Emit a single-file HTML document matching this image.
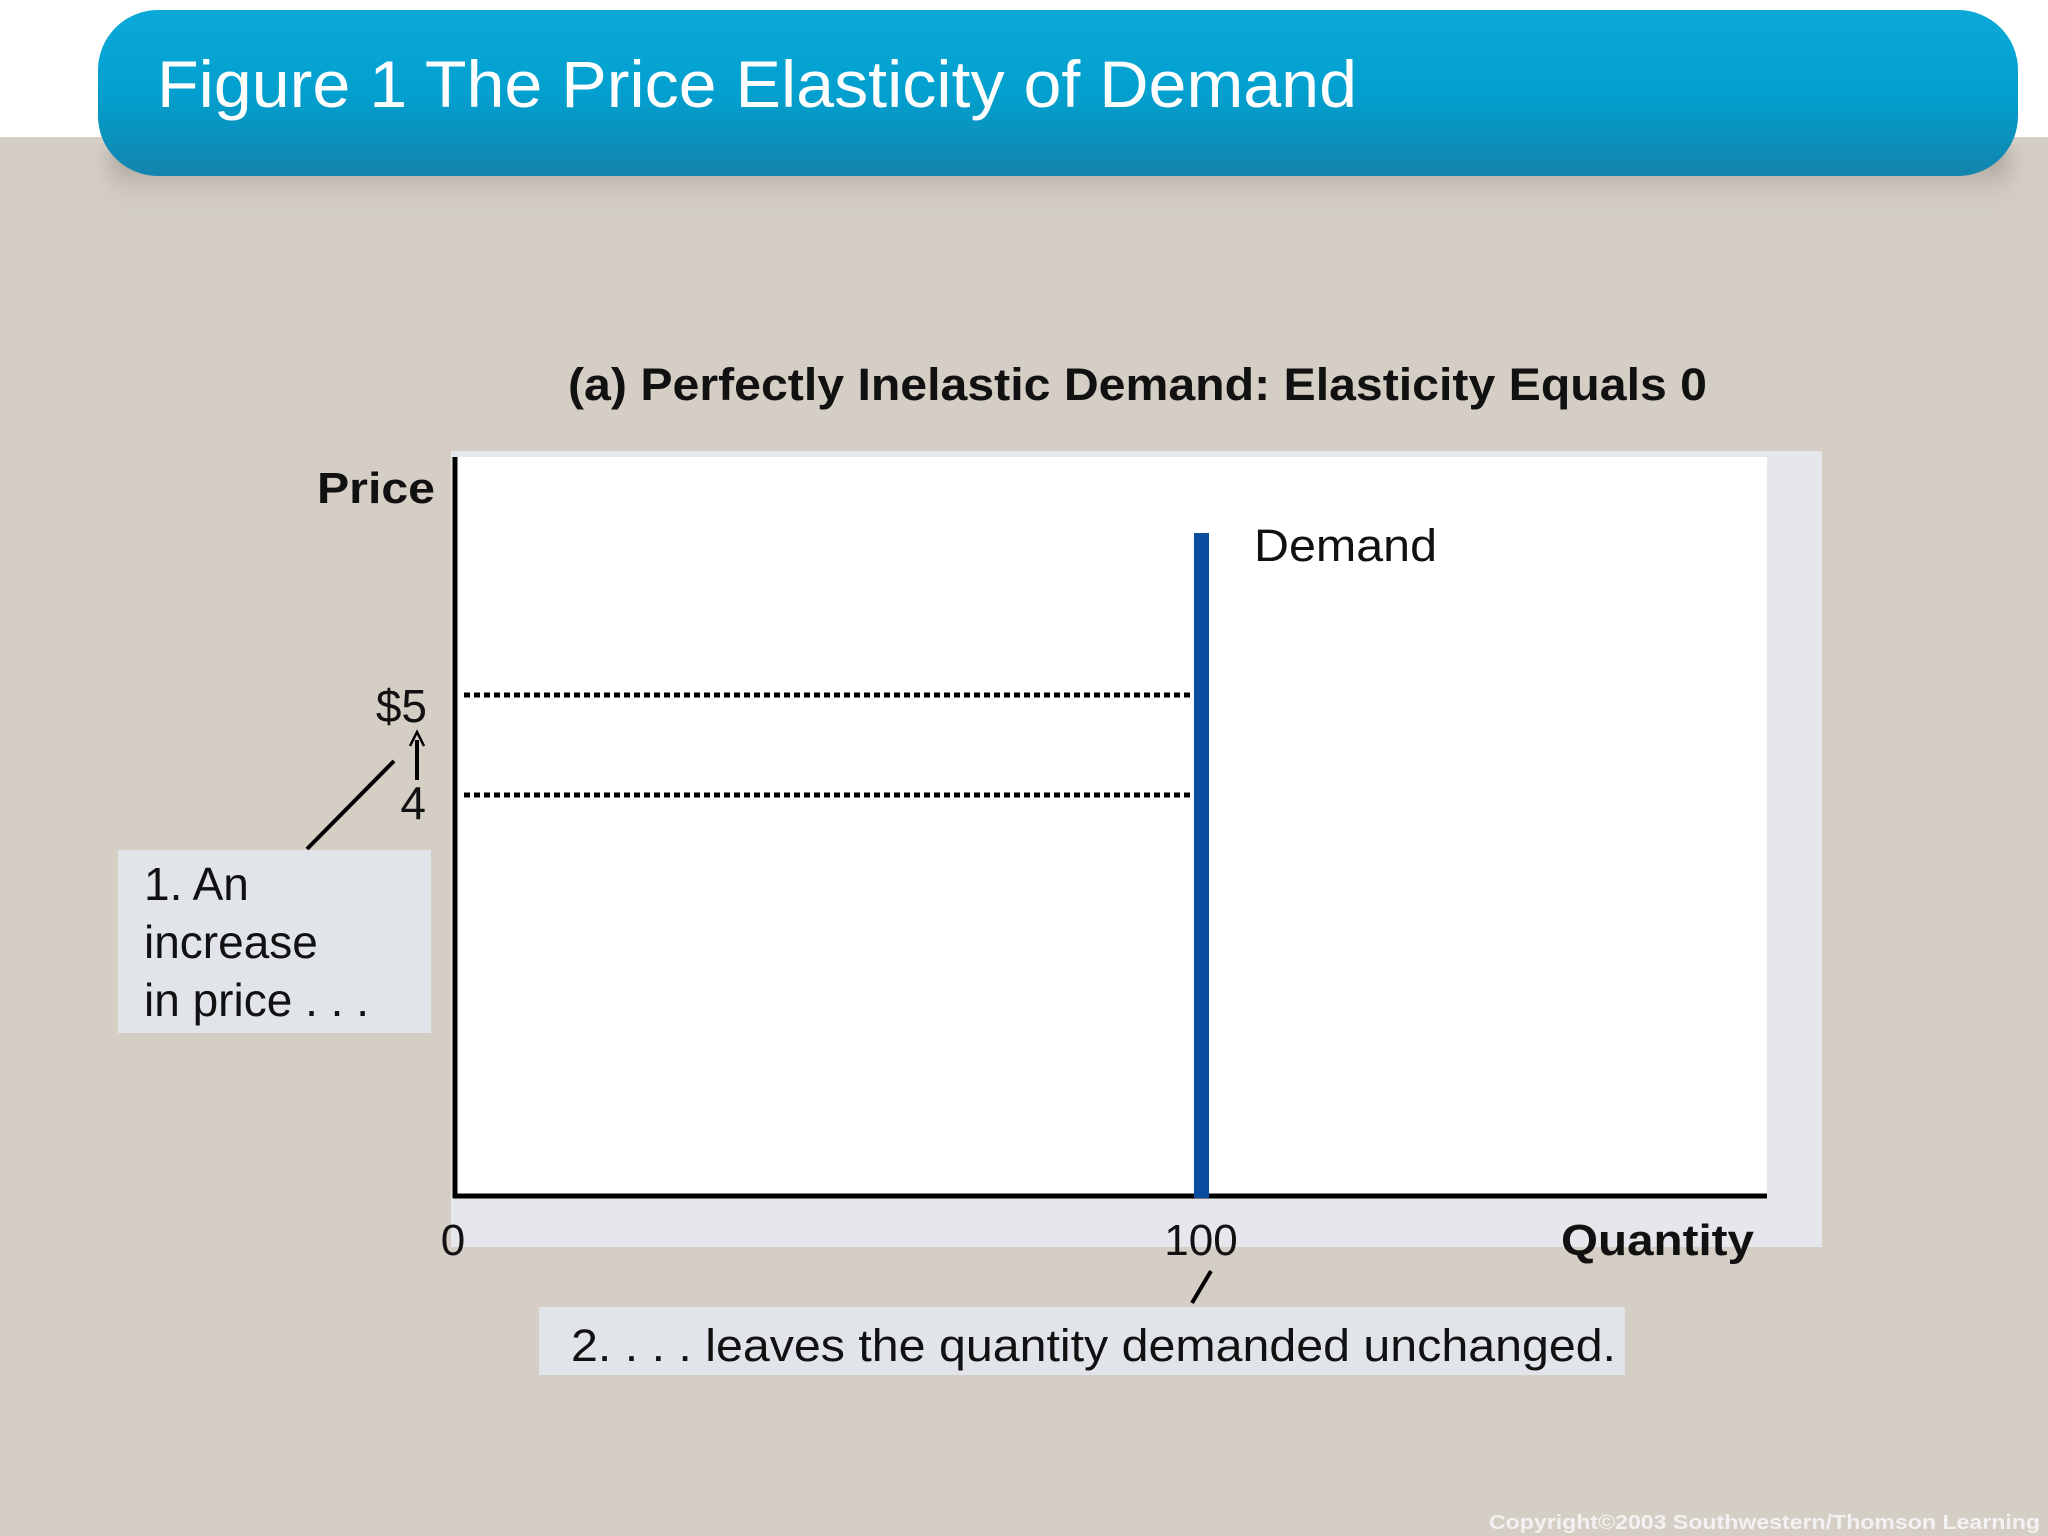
<!DOCTYPE html>
<html><head><meta charset="utf-8"><style>
html,body{margin:0;padding:0;background:#d4cec5;}
svg{display:block;}
text{font-family:"Liberation Sans",Arial,sans-serif;}
</style></head><body>
<svg width="2048" height="1536" viewBox="0 0 2048 1536" xmlns="http://www.w3.org/2000/svg">
<defs>
<linearGradient id="ban" x1="0" y1="0" x2="0" y2="1">
<stop offset="0" stop-color="#0aa9d8"/><stop offset="0.5" stop-color="#02a0cf"/><stop offset="1" stop-color="#1384ad"/>
</linearGradient>
<linearGradient id="shade" x1="0" y1="0" x2="0" y2="1">
<stop offset="0" stop-color="#7c766f" stop-opacity="0.7"/><stop offset="1" stop-color="#d4cec5" stop-opacity="0"/>
</linearGradient>
<filter id="blur"><feGaussianBlur stdDeviation="10"/></filter>
</defs>
<rect width="2048" height="1536" fill="#d4cec5"/>
<rect width="2048" height="137" fill="#ffffff"/>
<rect x="110" y="150" width="1900" height="60" fill="url(#shade)" filter="url(#blur)"/>
<rect x="98" y="10" width="1920" height="166" rx="60" ry="60" fill="url(#ban)"/>
<text x="157" y="107" font-size="66" fill="#ffffff" textLength="1200" lengthAdjust="spacingAndGlyphs">Figure 1 The Price Elasticity of Demand</text>

<text x="568" y="400" font-size="45" font-weight="bold" fill="#111" textLength="1139" lengthAdjust="spacingAndGlyphs">(a) Perfectly Inelastic Demand: Elasticity Equals 0</text>

<rect x="451" y="451" width="1371" height="796" fill="#e6e7ec"/>
<rect x="453" y="457" width="1314" height="738" fill="#ffffff"/>
<line x1="455" y1="457" x2="455" y2="1198" stroke="#000" stroke-width="5"/>
<line x1="453" y1="1196" x2="1767" y2="1196" stroke="#000" stroke-width="5"/>

<line x1="464" y1="695" x2="1191" y2="695" stroke="#000" stroke-width="5" stroke-dasharray="6,4"/>
<line x1="464" y1="795" x2="1191" y2="795" stroke="#000" stroke-width="5" stroke-dasharray="6,4"/>

<rect x="1194" y="533" width="15" height="665" fill="#0a4ca0"/>
<text x="1254" y="561" font-size="45" fill="#111" textLength="183" lengthAdjust="spacingAndGlyphs">Demand</text>

<text x="317" y="503" font-size="44" font-weight="bold" fill="#111" textLength="118" lengthAdjust="spacingAndGlyphs">Price</text>
<text x="427" y="722" font-size="46" fill="#111" text-anchor="end">$5</text>
<text x="426" y="819" font-size="46" fill="#111" text-anchor="end">4</text>
<line x1="417" y1="780" x2="417" y2="740" stroke="#000" stroke-width="4"/>
<polyline points="410,746 417,732 424,746" fill="none" stroke="#000" stroke-width="2.5"/>
<line x1="394" y1="761" x2="307" y2="849" stroke="#000" stroke-width="4"/>

<rect x="118" y="850" width="313" height="183" fill="#e1e4e8"/>
<text font-size="46" fill="#111"><tspan x="144" y="900">1. An</tspan><tspan x="144" y="958">increase</tspan><tspan x="144" y="1016">in price . . .</tspan></text>

<text x="453" y="1255" font-size="44" fill="#111" text-anchor="middle">0</text>
<text x="1201" y="1255" font-size="44" fill="#111" text-anchor="middle">100</text>
<text x="1561" y="1255" font-size="44" font-weight="bold" fill="#111" textLength="193" lengthAdjust="spacingAndGlyphs">Quantity</text>
<line x1="1211" y1="1271" x2="1192" y2="1303" stroke="#000" stroke-width="4"/>

<rect x="539" y="1307" width="1086" height="68" fill="#e1e4e8"/>
<text x="571" y="1361" font-size="45" fill="#111" textLength="1045" lengthAdjust="spacingAndGlyphs">2. . . . leaves the quantity demanded unchanged.</text>

<text x="1489" y="1529" font-size="20" font-weight="bold" fill="#f2f2f2" textLength="551" lengthAdjust="spacingAndGlyphs">Copyright©2003  Southwestern/Thomson Learning</text>
</svg>
</body></html>
